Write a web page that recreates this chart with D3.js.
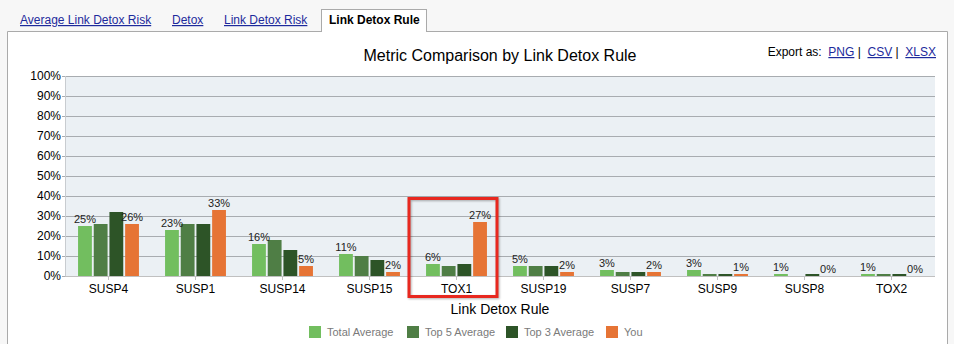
<!DOCTYPE html>
<html>
<head>
<meta charset="utf-8">
<script src="https://cdn.jsdelivr.net/npm/d3@7"></script>
<style>
  body { margin: 0; background: #f7f7f7; font-family: Helvetica, Arial, "Liberation Sans", sans-serif; }
  svg text { font-family: Helvetica, Arial, "Liberation Sans", sans-serif; }
</style>
</head>
<body>
<div id="chart"></div>
<script>
// chart data
const categories = ["SUSP4", "SUSP1", "SUSP14", "SUSP15", "TOX1", "SUSP19", "SUSP7", "SUSP9", "SUSP8", "TOX2"];
const seriesNames = ["Total Average", "Top 5 Average", "Top 3 Average", "You"];
const totalAverage = [25, 23, 16, 11, 6, 5, 3, 3, 1, 1];
const top5Average = [26, 26, 18, 10, 5, 5, 2, 1, 0, 1];
const top3Average = [32, 26, 13, 8, 6, 5, 2, 1, 1, 1];
const you = [26, 33, 5, 2, 27, 2, 2, 1, 0, 0];
const yTicks = [0, 10, 20, 30, 40, 50, 60, 70, 80, 90, 100];
const tabs = ["Average Link Detox Risk", "Detox", "Link Detox Risk", "Link Detox Rule"];
const highlighted = "TOX1";

const colors = ["#72be5f", "#4f7e45", "#2d5427", "#e67435"];
const seriesValues = [totalAverage, top5Average, top3Average, you];
const labelled = [true, false, false, true]; // only these series show data labels

const W = 954, H = 344;
const svg = d3.select("#chart").append("svg")
    .attr("width", W)
    .attr("height", H)
    .style("display", "block");

// ---- tabs ----
const tabX = [20, 172, 224, 329];
tabs.forEach((t, i) => {
    if (i === tabs.length - 1) {
        svg.append("rect")
            .attr("x", 321.5).attr("y", 9.5).attr("width", 105).attr("height", 24)
            .attr("fill", "#fff").attr("stroke", "#aaa");
        svg.append("text").attr("x", tabX[i]).attr("y", 24)
            .attr("font-size", 12).attr("font-weight", "bold").attr("fill", "#000").text(t);
    } else {
        svg.append("text").attr("x", tabX[i]).attr("y", 24)
            .attr("font-size", 12).attr("fill", "#1d2a9c")
            .attr("text-decoration", "underline").text(t);
    }
});

// ---- panel ----
svg.append("rect").attr("x", 8).attr("y", 32).attr("width", 939).attr("height", H - 32).attr("fill", "#fff");
svg.append("path")
    .attr("d", `M7.5,${H + 2} V31.5 H321.5 M426.5,31.5 H947.5 V${H + 2}`)
    .attr("fill", "none").attr("stroke", "#aaa");

// ---- export links ----
const exp = svg.append("text").attr("x", 936).attr("y", 56).attr("text-anchor", "end").attr("font-size", 12)
    .attr("xml:space", "preserve").style("white-space", "pre");
exp.append("tspan").attr("fill", "#000").text("Export as:  ");
exp.append("tspan").attr("fill", "#1d2a9c").attr("text-decoration", "underline").text("PNG");
exp.append("tspan").attr("fill", "#000").text(" |  ");
exp.append("tspan").attr("fill", "#1d2a9c").attr("text-decoration", "underline").text("CSV");
exp.append("tspan").attr("fill", "#000").text(" |  ");
exp.append("tspan").attr("fill", "#1d2a9c").attr("text-decoration", "underline").text("XLSX");

// ---- plot ----
const plotLeft = 65, plotRight = 935, plotTop = 76, plotBottom = 276;

const x0 = d3.scaleBand().domain(categories).range([plotLeft, plotRight]).padding(0);
const x1 = d3.scaleBand().domain(seriesNames)
    .range([x0.bandwidth() * 0.15, x0.bandwidth() * 0.85])
    .paddingInner(0.12);
const y = d3.scaleLinear().domain([0, 100]).range([plotBottom, plotTop]);

svg.append("text").attr("x", (plotLeft + plotRight) / 2).attr("y", 61)
    .attr("text-anchor", "middle").attr("font-size", 16).attr("fill", "#000")
    .text("Metric Comparison by Link Detox Rule");

svg.append("rect").attr("x", plotLeft).attr("y", plotTop)
    .attr("width", plotRight - plotLeft).attr("height", plotBottom - plotTop).attr("fill", "#ebf0f4");

// y gridlines + labels
const yAxis = d3.axisLeft(y).tickValues(yTicks).tickSize(0).tickPadding(4).tickFormat(d => d + "%");
const gy = svg.append("g").attr("transform", `translate(${plotLeft},0)`).call(yAxis);
gy.select(".domain").remove();
gy.selectAll(".tick line").attr("stroke", "#a8acb0").attr("x1", -3).attr("x2", plotRight - plotLeft);
gy.selectAll(".tick text").attr("font-size", 12).attr("fill", "#000")
    .attr("font-family", "Helvetica, Arial, 'Liberation Sans', sans-serif");

svg.append("line").attr("x1", plotLeft + 0.5).attr("x2", plotLeft + 0.5).attr("y1", plotTop).attr("y2", plotBottom)
    .attr("stroke", "#c8ccd0");

// bars
const groups = svg.append("g").selectAll("g")
    .data(categories)
    .join("g")
    .attr("transform", d => `translate(${x0(d)},0)`);

groups.selectAll("rect")
    .data((c, i) => seriesNames.map((s, j) => ({ s, j, v: seriesValues[j][i] })))
    .join("rect")
    .attr("x", d => x1(d.s))
    .attr("width", x1.bandwidth())
    .attr("y", d => y(d.v))
    .attr("height", d => plotBottom - y(d.v))
    .attr("fill", d => colors[d.j]);

groups.selectAll("text")
    .data((c, i) => seriesNames.map((s, j) => ({ s, j, v: seriesValues[j][i] })).filter(d => labelled[d.j]))
    .join("text")
    .attr("x", d => x1(d.s) + x1.bandwidth() / 2)
    .attr("y", d => y(d.v) - 3)
    .attr("text-anchor", "middle")
    .attr("font-size", 11)
    .attr("fill", "#222")
    .text(d => d.v + "%");

// x axis
const xAxis = d3.axisBottom(x0).tickSize(4).tickPadding(4);
const gx = svg.append("g").attr("transform", `translate(0,${plotBottom})`).call(xAxis);
gx.select(".domain").attr("stroke", "#c0c0c0").attr("d", `M${plotLeft},0.5H${plotRight}`);
gx.selectAll(".tick line").attr("stroke", "#c0c0c0");
gx.selectAll(".tick text").attr("font-size", 12).attr("fill", "#000")
    .attr("font-family", "Helvetica, Arial, 'Liberation Sans', sans-serif");

svg.append("text").attr("x", (plotLeft + plotRight) / 2).attr("y", 314)
    .attr("text-anchor", "middle").attr("font-size", 14).attr("fill", "#000")
    .text("Link Detox Rule");

// highlight box
svg.append("rect")
    .attr("x", x0(highlighted) - 4).attr("y", y(40) + 2.5)
    .attr("width", x0.bandwidth() + 1).attr("height", 98)
    .attr("fill", "none").attr("stroke", "#e8281f").attr("stroke-width", 3)
    .style("filter", "drop-shadow(1px 1px 1px rgba(0,0,0,0.3))");

// legend
const legendX = [309, 407, 506, 606];
const legend = svg.append("g").selectAll("g")
    .data(seriesNames)
    .join("g")
    .attr("transform", (d, i) => `translate(${legendX[i]},326)`);
legend.append("rect").attr("width", 12).attr("height", 12).attr("fill", (d, i) => colors[i]);
legend.append("text").attr("x", 18).attr("y", 10).attr("font-size", 11).attr("fill", "#7a7a7a").text(d => d);
</script>
</body>
</html>
